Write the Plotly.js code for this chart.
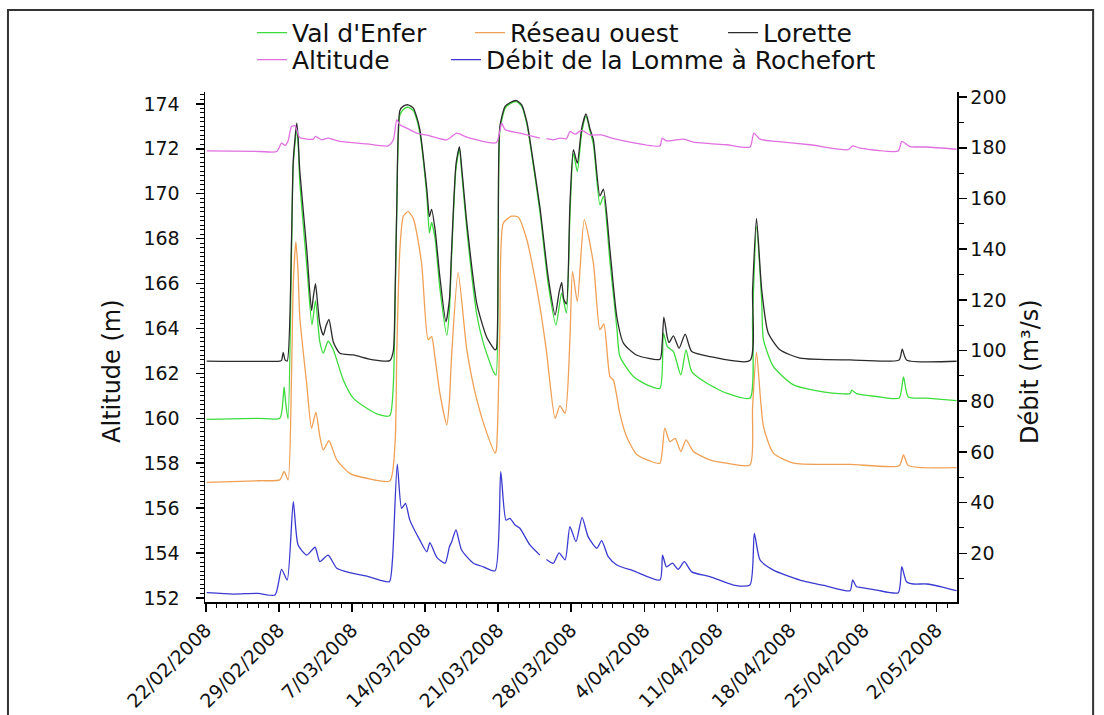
<!DOCTYPE html>
<html>
<head>
<meta charset="utf-8">
<script src="https://cdn.plot.ly/plotly-3.0.1.min.js"></script>
<style>html,body{margin:0;padding:0;background:#fff;}#chart{width:1104px;height:715px;}</style>
</head>
<body>
<div id="chart"></div>
<script>
// Series names
const seriesNames = ["Val d'Enfer", "Réseau ouest", "Lorette", "Altitude", "Débit de la Lomme à Rochefort"];
const axisTitles = ['Altitude (m)', 'Débit (m³/s)'];

// Val d'Enfer (m)
const valEnfer = [['2008-02-22 02:00',159.95],['2008-02-27 00:00',160.0],['2008-02-29 02:00',160.0],['2008-02-29 10:00',161.0],['2008-02-29 12:00',161.4],['2008-02-29 16:00',160.6],['2008-02-29 21:00',159.97],['2008-03-01 05:00',167.5],['2008-03-01 09:00',171.3],['2008-03-01 17:00',172.9],['2008-03-01 20:00',172.3],['2008-03-02 00:00',170.5],['2008-03-02 16:00',166.8],['2008-03-03 04:00',164.16],['2008-03-03 12:00',165.24],['2008-03-03 22:00',163.4],['2008-03-04 06:00',162.9],['2008-03-04 17:00',163.43],['2008-03-05 05:00',163.05],['2008-03-06 04:00',161.71],['2008-03-07 03:00',160.9],['2008-03-08 10:00',160.45],['2008-03-09 16:00',160.15],['2008-03-10 15:00',160.12],['2008-03-10 23:00',161.5],['2008-03-11 03:00',165.0],['2008-03-11 07:00',169.3],['2008-03-11 14:00',173.5],['2008-03-11 22:00',173.75],['2008-03-12 09:00',173.85],['2008-03-12 21:00',173.7],['2008-03-13 05:00',173.3],['2008-03-13 12:00',172.7],['2008-03-14 04:00',169.9],['2008-03-14 10:00',168.25],['2008-03-14 15:00',168.72],['2008-03-14 23:00',168.0],['2008-03-15 10:00',165.8],['2008-03-16 02:00',163.7],['2008-03-16 08:00',164.8],['2008-03-16 13:00',167.2],['2008-03-16 23:00',171.1],['2008-03-17 07:00',172.0],['2008-03-17 12:00',171.0],['2008-03-18 00:00',168.4],['2008-03-18 23:00',164.6],['2008-03-19 14:00',163.35],['2008-03-20 13:00',162.08],['2008-03-20 19:00',161.93],['2008-03-21 00:00',167.0],['2008-03-21 04:00',172.8],['2008-03-21 16:00',173.8],['2008-03-22 03:00',174.0],['2008-03-22 18:00',174.1],['2008-03-23 06:00',173.9],['2008-03-23 18:00',173.1],['2008-03-24 01:00',172.3],['2008-03-25 00:00',169.2],['2008-03-25 19:00',166.0],['2008-03-26 13:00',164.16],['2008-03-27 02:00',165.57],['2008-03-27 13:00',164.68],['2008-03-27 21:00',169.0],['2008-03-28 05:00',171.8],['2008-03-28 14:00',170.99],['2008-03-29 00:00',172.7],['2008-03-29 10:00',173.45],['2008-03-29 19:00',172.8],['2008-03-30 03:00',172.2],['2008-03-30 18:00',169.5],['2008-03-31 02:00',169.88],['2008-03-31 17:00',167.0],['2008-04-01 09:00',164.0],['2008-04-01 16:00',162.75],['2008-04-02 23:00',161.86],['2008-04-04 06:00',161.49],['2008-04-05 12:00',161.34],['2008-04-05 20:00',163.79],['2008-04-06 05:00',163.19],['2008-04-06 19:00',162.97],['2008-04-07 12:00',161.93],['2008-04-08 00:00',163.05],['2008-04-08 13:00',162.08],['2008-04-10 00:00',161.56],['2008-04-11 21:00',161.12],['2008-04-14 03:00',160.9],['2008-04-14 09:00',164.5],['2008-04-14 18:00',168.54],['2008-04-15 06:00',165.2],['2008-04-15 10:00',163.5],['2008-04-16 09:00',162.3],['2008-04-18 07:00',161.49],['2008-04-21 11:00',161.15],['2008-04-23 17:00',161.1],['2008-04-23 21:00',161.25],['2008-04-24 08:00',161.1],['2008-04-26 06:00',160.97],['2008-04-28 10:00',160.9],['2008-04-28 20:00',161.84],['2008-04-29 07:00',160.95],['2008-05-01 01:00',160.9],['2008-05-03 22:00',160.79]];

// Réseau ouest (m)
const reseauOuest = [['2008-02-22 02:00',157.15],['2008-02-27 04:00',157.22],['2008-02-29 02:00',157.26],['2008-02-29 12:00',157.63],['2008-02-29 21:00',157.26],['2008-03-01 05:00',162.0],['2008-03-01 09:00',166.0],['2008-03-01 15:00',167.87],['2008-03-01 20:00',166.5],['2008-03-02 00:00',164.5],['2008-03-02 16:00',161.5],['2008-03-03 03:00',159.56],['2008-03-03 13:00',160.27],['2008-03-03 22:00',159.2],['2008-03-04 06:00',158.59],['2008-03-04 19:00',159.0],['2008-03-05 13:00',158.15],['2008-03-06 19:00',157.55],['2008-03-08 10:00',157.33],['2008-03-10 15:00',157.21],['2008-03-11 03:00',158.9],['2008-03-11 07:00',163.0],['2008-03-11 14:00',167.5],['2008-03-11 22:00',169.0],['2008-03-12 09:00',169.2],['2008-03-12 21:00',168.9],['2008-03-13 16:00',166.9],['2008-03-14 07:00',163.5],['2008-03-14 15:00',163.64],['2008-03-14 23:00',162.68],['2008-03-15 10:00',161.12],['2008-03-16 02:00',159.7],['2008-03-16 08:00',160.8],['2008-03-16 13:00',162.8],['2008-03-17 04:00',166.49],['2008-03-18 00:00',163.05],['2008-03-18 23:00',160.82],['2008-03-19 22:00',159.34],['2008-03-20 17:00',158.45],['2008-03-20 20:00',158.6],['2008-03-21 04:00',164.0],['2008-03-21 12:00',168.7],['2008-03-22 07:00',169.0],['2008-03-22 22:00',168.96],['2008-03-23 18:00',167.95],['2008-03-24 09:00',166.6],['2008-03-25 00:00',164.98],['2008-03-25 15:00',163.0],['2008-03-26 11:00',160.0],['2008-03-26 22:00',160.55],['2008-03-27 10:00',160.23],['2008-03-27 21:00',163.5],['2008-03-28 03:00',166.54],['2008-03-28 14:00',165.2],['2008-03-29 06:00',168.84],['2008-03-30 03:00',166.9],['2008-03-30 18:00',163.94],['2008-03-31 03:00',164.2],['2008-03-31 17:00',161.86],['2008-04-01 01:00',161.7],['2008-04-01 16:00',160.2],['2008-04-02 07:00',159.2],['2008-04-03 06:00',158.4],['2008-04-04 13:00',158.1],['2008-04-05 12:00',158.0],['2008-04-05 23:00',159.56],['2008-04-06 11:00',158.96],['2008-04-06 23:00',159.11],['2008-04-07 12:00',158.52],['2008-04-08 00:00',159.04],['2008-04-08 17:00',158.52],['2008-04-10 07:00',158.15],['2008-04-11 21:00',158.0],['2008-04-14 03:00',157.92],['2008-04-14 09:00',160.5],['2008-04-14 18:00',162.93],['2008-04-15 10:00',159.63],['2008-04-16 09:00',158.45],['2008-04-18 07:00',158.0],['2008-04-23 17:00',157.95],['2008-04-28 10:00',157.89],['2008-04-28 20:00',158.37],['2008-04-29 07:00',157.9],['2008-05-03 22:00',157.8]];

// Lorette (m)
const lorette = [['2008-02-22 02:00',162.55],['2008-02-29 02:00',162.55],['2008-02-29 06:00',162.58],['2008-02-29 10:00',162.93],['2008-02-29 14:00',162.6],['2008-02-29 19:00',162.55],['2008-03-01 05:00',168.0],['2008-03-01 09:00',171.5],['2008-03-01 17:00',173.14],['2008-03-01 20:00',172.5],['2008-03-02 00:00',171.0],['2008-03-02 16:00',167.5],['2008-03-03 03:00',164.8],['2008-03-03 07:00',165.4],['2008-03-03 12:00',166.0],['2008-03-03 16:00',165.3],['2008-03-03 22:00',164.2],['2008-03-04 06:00',163.7],['2008-03-04 12:00',164.1],['2008-03-04 19:00',164.4],['2008-03-05 05:00',163.4],['2008-03-05 20:00',162.9],['2008-03-07 03:00',162.82],['2008-03-09 01:00',162.6],['2008-03-10 15:00',162.57],['2008-03-10 23:00',163.0],['2008-03-11 03:00',165.5],['2008-03-11 07:00',169.5],['2008-03-11 14:00',173.7],['2008-03-11 22:00',173.9],['2008-03-12 09:00',173.96],['2008-03-12 21:00',173.81],['2008-03-13 05:00',173.4],['2008-03-13 12:00',172.85],['2008-03-14 04:00',170.2],['2008-03-14 10:00',168.98],['2008-03-14 15:00',169.3],['2008-03-14 23:00',168.4],['2008-03-15 10:00',166.3],['2008-03-16 00:00',164.3],['2008-03-16 08:00',165.3],['2008-03-16 13:00',167.5],['2008-03-16 23:00',171.3],['2008-03-17 07:00',172.1],['2008-03-17 12:00',171.2],['2008-03-18 00:00',168.7],['2008-03-18 23:00',165.1],['2008-03-19 22:00',163.6],['2008-03-20 17:00',163.05],['2008-03-20 20:00',163.1],['2008-03-21 00:00',167.5],['2008-03-21 04:00',173.0],['2008-03-21 16:00',173.89],['2008-03-22 03:00',174.05],['2008-03-22 18:00',174.15],['2008-03-23 06:00',173.96],['2008-03-23 18:00',173.2],['2008-03-24 01:00',172.4],['2008-03-25 00:00',169.4],['2008-03-25 19:00',166.3],['2008-03-26 11:00',164.6],['2008-03-26 20:00',165.6],['2008-03-27 02:00',166.05],['2008-03-27 07:00',165.3],['2008-03-27 13:00',165.1],['2008-03-27 21:00',169.5],['2008-03-28 05:00',171.96],['2008-03-28 14:00',171.36],['2008-03-29 00:00',172.9],['2008-03-29 10:00',173.55],['2008-03-29 19:00',172.9],['2008-03-30 03:00',172.4],['2008-03-30 18:00',169.9],['2008-03-31 02:00',170.2],['2008-03-31 17:00',167.5],['2008-04-01 09:00',164.5],['2008-04-02 00:00',163.35],['2008-04-03 06:00',162.82],['2008-04-05 12:00',162.63],['2008-04-05 17:00',163.3],['2008-04-05 21:00',164.5],['2008-04-06 05:00',163.6],['2008-04-06 09:00',163.37],['2008-04-06 19:00',163.67],['2008-04-07 08:00',163.12],['2008-04-07 22:00',163.75],['2008-04-08 13:00',162.97],['2008-04-10 07:00',162.75],['2008-04-14 03:00',162.57],['2008-04-14 09:00',165.7],['2008-04-14 18:00',168.9],['2008-04-15 06:00',165.72],['2008-04-15 21:00',163.8],['2008-04-17 00:00',163.05],['2008-04-18 22:00',162.68],['2008-04-23 17:00',162.6],['2008-04-28 10:00',162.6],['2008-04-28 17:00',163.08],['2008-04-29 03:00',162.6],['2008-05-03 22:00',162.54]];

// Altitude (m)
const altitude = [['2008-02-22 02:00',171.91],['2008-02-27 04:00',171.88],['2008-02-28 19:00',171.88],['2008-02-29 06:00',172.25],['2008-02-29 14:00',172.15],['2008-02-29 21:00',172.35],['2008-03-01 05:00',173.0],['2008-03-01 13:00',173.02],['2008-03-02 00:00',172.5],['2008-03-03 07:00',172.43],['2008-03-03 12:00',172.55],['2008-03-04 02:00',172.4],['2008-03-04 17:00',172.48],['2008-03-05 20:00',172.33],['2008-03-08 10:00',172.22],['2008-03-10 11:00',172.13],['2008-03-10 23:00',172.4],['2008-03-11 07:00',173.3],['2008-03-11 14:00',173.07],['2008-03-12 06:00',172.92],['2008-03-13 05:00',172.7],['2008-03-14 11:00',172.58],['2008-03-16 02:00',172.4],['2008-03-17 01:00',172.7],['2008-03-18 00:00',172.52],['2008-03-20 20:00',172.28],['2008-03-21 08:00',173.14],['2008-03-21 16:00',172.85],['2008-03-23 02:00',172.7],['2008-03-25 00:00',172.48],['2008-03-25 08:00',null],['2008-03-25 15:00',172.45],['2008-03-26 07:00',172.4],['2008-03-26 22:00',172.48],['2008-03-27 13:00',172.45],['2008-03-27 21:00',172.77],['2008-03-28 09:00',172.65],['2008-03-29 00:00',172.82],['2008-03-29 19:00',172.62],['2008-03-30 22:00',172.62],['2008-03-31 17:00',172.5],['2008-04-02 07:00',172.33],['2008-04-05 12:00',172.13],['2008-04-05 17:00',172.48],['2008-04-06 03:00',172.35],['2008-04-06 19:00',172.38],['2008-04-07 19:00',172.43],['2008-04-08 17:00',172.3],['2008-04-11 21:00',172.18],['2008-04-14 03:00',172.08],['2008-04-14 12:00',172.7],['2008-04-15 02:00',172.43],['2008-04-16 16:00',172.33],['2008-04-19 21:00',172.18],['2008-04-23 13:00',171.96],['2008-04-23 23:00',172.13],['2008-04-24 16:00',172.03],['2008-04-28 08:00',171.91],['2008-04-28 16:00',172.33],['2008-04-29 11:00',172.1],['2008-05-01 01:00',172.08],['2008-05-03 22:00',171.98]];

// Débit de la Lomme à Rochefort (m³/s)
const debit = [['2008-02-22 02:00',4.47],['2008-02-24 15:00',3.94],['2008-02-27 00:00',4.2],['2008-02-28 15:00',3.55],['2008-02-29 06:00',13.7],['2008-02-29 19:00',9.47],['2008-03-01 09:00',40.4],['2008-03-01 20:00',23.3],['2008-03-02 16:00',19.3],['2008-03-03 11:00',22.4],['2008-03-03 22:00',16.7],['2008-03-04 17:00',19.3],['2008-03-05 13:00',14.1],['2008-03-06 19:00',12.35],['2008-03-08 10:00',11.0],['2008-03-09 16:00',9.47],['2008-03-10 14:00',8.8],['2008-03-10 21:00',17.4],['2008-03-11 08:00',55.2],['2008-03-11 18:00',37.7],['2008-03-12 03:00',39.7],['2008-03-12 13:00',33.1],['2008-03-13 12:00',25.2],['2008-03-14 04:00',20.6],['2008-03-14 11:00',24.2],['2008-03-15 03:00',18.4],['2008-03-15 22:00',16.1],['2008-03-16 08:00',22.6],['2008-03-16 13:00',24.5],['2008-03-16 23:00',29.2],['2008-03-17 12:00',21.3],['2008-03-18 15:00',16.1],['2008-03-19 14:00',14.7],['2008-03-20 17:00',13.1],['2008-03-21 06:00',52.2],['2008-03-21 18:00',33.1],['2008-03-22 03:00',33.8],['2008-03-22 15:00',31.2],['2008-03-23 02:00',29.9],['2008-03-24 01:00',23.3],['2008-03-25 00:00',19.3],['2008-03-25 08:00',null],['2008-03-25 15:00',17.6],['2008-03-26 07:00',16.1],['2008-03-26 20:00',20.2],['2008-03-27 10:00',17.4],['2008-03-27 21:00',30.5],['2008-03-28 11:00',24.6],['2008-03-29 01:00',34.2],['2008-03-29 15:00',26.5],['2008-03-30 11:00',22.0],['2008-03-30 22:00',25.0],['2008-03-31 13:00',18.7],['2008-04-01 09:00',15.4],['2008-04-02 23:00',13.1],['2008-04-05 12:00',9.47],['2008-04-05 18:00',19.3],['2008-04-06 03:00',14.7],['2008-04-06 17:00',16.1],['2008-04-07 06:00',13.7],['2008-04-07 20:00',16.7],['2008-04-08 13:00',12.7],['2008-04-10 07:00',10.8],['2008-04-12 13:00',7.5],['2008-04-14 03:00',7.5],['2008-04-14 13:00',27.9],['2008-04-15 02:00',17.4],['2008-04-16 09:00',13.4],['2008-04-18 22:00',9.47],['2008-04-21 11:00',7.1],['2008-04-23 17:00',5.25],['2008-04-23 23:00',9.47],['2008-04-24 08:00',6.8],['2008-04-24 16:00',6.6],['2008-04-26 06:00',5.5],['2008-04-28 08:00',4.47],['2008-04-28 16:00',14.7],['2008-04-29 03:00',8.8],['2008-04-29 19:00',7.9],['2008-05-01 01:00',7.9],['2008-05-02 16:00',6.6],['2008-05-03 22:00',5.25]];

const colors = ['#3ddc3d', '#f0a055', '#2b2b2b', '#e070e0', '#3a3ad0'];
const xs = s => s.map(p => p[0]);
const ys = s => s.map(p => p[1]);

const font = {family: '"DejaVu Sans", "Liberation Sans", Arial, sans-serif', color: '#111'};
const f = size => Object.assign({size: size}, font);

const legendIds = ['legend', 'legend2', 'legend3', 'legend4', 'legend5'];
const seriesData = [valEnfer, reseauOuest, lorette, altitude, debit];

const traces = seriesData.map((s, i) => ({
  type: 'scatter', mode: 'lines', x: xs(s), y: ys(s), name: seriesNames[i],
  legend: legendIds[i], yaxis: i === 4 ? 'y2' : 'y',
  line: {color: colors[i], width: 1.3, shape: 'spline', smoothing: 0.6}, connectgaps: false
}));

const legendBase = {orientation: 'h', xanchor: 'left', yanchor: 'middle', font: f(25), bgcolor: 'rgba(0,0,0,0)'};
const legendPos = [[0.0625, 1.116], [0.3524, 1.116], [0.6889, 1.116], [0.0625, 1.063], [0.3205, 1.063]];

const layout = {
  width: 1104, height: 715,
  margin: {l: 205, r: 147, t: 92, b: 113, autoexpand: false},
  paper_bgcolor: '#fff', plot_bgcolor: '#fff',
  font: f(19),
  showlegend: true,
  xaxis: {
    type: 'date', range: ['2008-02-21 22:00', '2008-05-03 23:00'],
    tick0: '2008-02-22', dtick: 7 * 86400000, tickformat: '%-d/%m/%Y', tickangle: -45,
    ticks: 'outside', ticklen: 8, tickwidth: 1.5, tickcolor: '#000',
    showline: true, linecolor: '#000', linewidth: 1.5, showgrid: false, zeroline: false,
    tickfont: f(19),
    minor: {tick0: '2008-02-22', dtick: 86400000, ticks: 'outside', ticklen: 4, tickwidth: 1, tickcolor: '#000', showgrid: false}
  },
  yaxis: {
    range: [151.82, 174.53], tick0: 152, dtick: 2,
    ticks: 'outside', ticklen: 8, tickwidth: 1.5, tickcolor: '#000', ticklabelstandoff: 12,
    showline: true, linecolor: '#000', linewidth: 1.5, showgrid: false, zeroline: false,
    tickfont: f(19),
    minor: {dtick: 0.2, ticks: 'outside', ticklen: 4, tickwidth: 1, tickcolor: '#000', showgrid: false}
  },
  yaxis2: {
    overlaying: 'y', side: 'right', range: [0.8, 202], tick0: 0, dtick: 20,
    ticks: 'outside', ticklen: 8, tickwidth: 1.5, tickcolor: '#000',
    showline: true, linecolor: '#000', linewidth: 1.5, showgrid: false, zeroline: false,
    tickfont: f(19),
    minor: {dtick: 10, ticks: 'outside', ticklen: 5, tickwidth: 1, tickcolor: '#000', showgrid: false}
  },
  annotations: [
    {text: axisTitles[0], xref: 'paper', yref: 'paper', x: -0.1237, y: 0.453, textangle: -90, showarrow: false, font: f(24), xanchor: 'center', yanchor: 'middle'},
    {text: axisTitles[1], xref: 'paper', yref: 'paper', x: 1.097, y: 0.453, textangle: -90, showarrow: false, font: f(24), xanchor: 'center', yanchor: 'middle'}
  ],
  shapes: [{type: 'rect', xref: 'paper', yref: 'paper', x0: -0.262, x1: 1.181, y0: -0.25, y1: 1.1608,
    line: {color: '#333', width: 2}, fillcolor: 'rgba(0,0,0,0)', layer: 'below'}]
};
legendIds.forEach((id, i) => {
  layout[id] = Object.assign({x: legendPos[i][0], y: legendPos[i][1]}, legendBase);
});

Plotly.newPlot('chart', traces, layout, {staticPlot: true, displayModeBar: false});
</script>
</body>
</html>
